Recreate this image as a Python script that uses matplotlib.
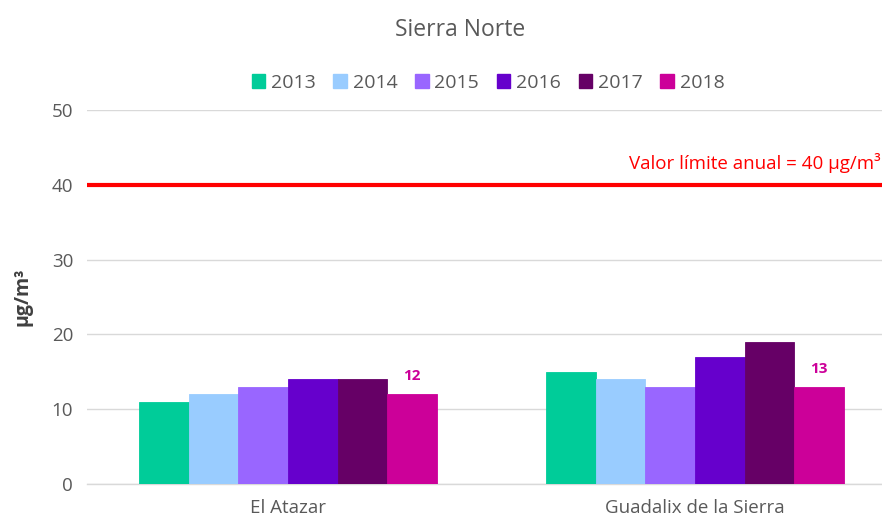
import matplotlib
matplotlib.use("Agg")
import matplotlib.pyplot as plt
import numpy as np
from matplotlib.patches import Patch

categories = ["El Atazar", "Guadalix de la Sierra"]
years = ["2013", "2014", "2015", "2016", "2017", "2018"]
values = {
    "2013": [11, 15],
    "2014": [12, 14],
    "2015": [13, 13],
    "2016": [14, 17],
    "2017": [14, 19],
    "2018": [12, 13],
}
colors = ["#00CC99", "#99CCFF", "#9966FF", "#6600CC", "#660066", "#CC0099"]
limit_value = 40
limit_label = "Valor límite anual = 40 µg/m³"
title = "Sierra Norte"
ylabel = "µg/m³"
yticks = [0, 10, 20, 30, 40, 50]

plt.rcParams['font.family'] = ['Open Sans', 'DejaVu Sans']

fig = plt.figure(figsize=(8.82, 5.18), dpi=100)
ax = fig.add_axes([87/882, (518-484)/518, (896-87)/882, (484-110)/518])

x = np.arange(len(categories))
n = len(years)
bw = 0.122
for i, (yr, c) in enumerate(zip(years, colors)):
    offs = (i - (n-1)/2) * bw
    ax.bar(x + offs, values[yr], width=bw, color=c, edgecolor=c,
           linewidth=0.6, zorder=3, label=yr)
    if yr == "2018":
        for xi, v in zip(x + offs, values[yr]):
            ax.text(xi, v + 2.4, str(v), ha='center', va='center', color=c,
                    fontsize=11, fontweight='bold')

ax.axhline(limit_value, color="#FF0000", lw=3, zorder=4)
ax.text(0.838, 42.9, limit_label, color="#FF0000", fontsize=13.5,
        ha='left', va='center', clip_on=False)

ax.set_xlim(-0.494, 1.494)
ax.set_ylim(0, 50)
ax.set_yticks(yticks)
ax.set_xticks(x)
ax.set_xticklabels(categories)
ax.grid(axis='y', color="#D9D9D9", lw=1, zorder=0)
ax.set_axisbelow(True)
for s in ['top', 'right', 'left']:
    ax.spines[s].set_visible(False)
ax.spines['bottom'].set_color("#D9D9D9")
ax.spines['bottom'].set_linewidth(1)
ax.tick_params(axis='both', length=0, labelsize=13.5, colors="#595959")
ax.tick_params(axis='y', pad=10)
ax.tick_params(axis='x', pad=11)

fig.text(22/882, 1 - 297/518, ylabel, rotation=90, ha='center', va='center',
         fontsize=14, fontweight='bold', color="#404040")
fig.text(460/882, 1 - 30/518, title, ha='center', va='center', fontsize=16.5,
         color="#595959")

handles = [Patch(facecolor=c, edgecolor=c) for c in colors]
fig.legend(handles, years, loc='center', bbox_to_anchor=(488/882, 1 - 83/518),
           ncol=6, frameon=False, handlelength=0.7, handleheight=0.7,
           handletextpad=0.3, columnspacing=0.9,
           prop={'family': ['Open Sans', 'DejaVu Sans'], 'size': 14},
           labelcolor="#595959")

fig.savefig("out.png", dpi=100)
